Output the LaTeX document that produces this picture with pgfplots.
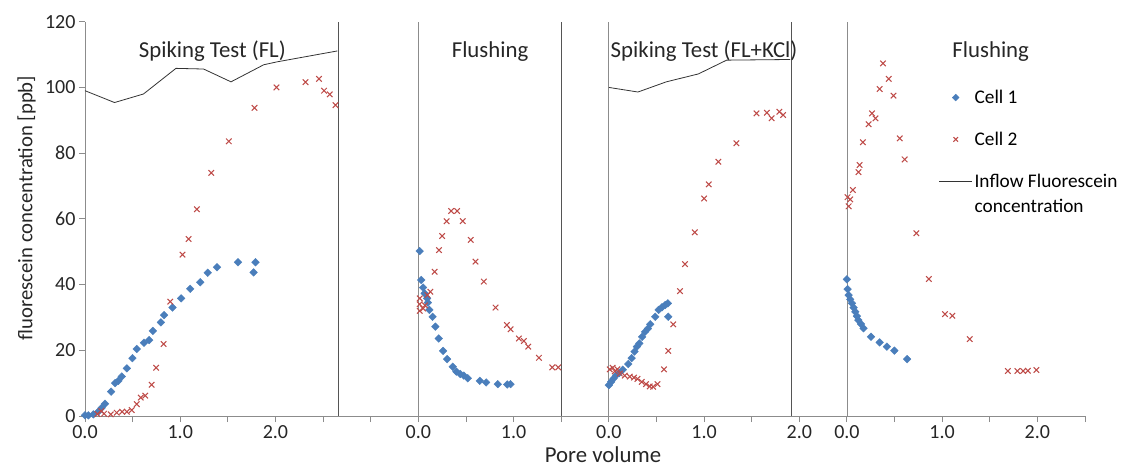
\documentclass[border=0pt]{standalone}
\usepackage{fontspec}
\setmainfont{Carlito}
\usepackage{pgfplots}
\pgfplotsset{compat=1.18}
\usepackage{pgfplotstable}
\definecolor{cblue}{HTML}{4A7EBB}
\definecolor{cred}{HTML}{BE4B48}
\definecolor{axgray}{HTML}{8C8C8C}
\definecolor{sepgray}{HTML}{555555}

\pgfplotsset{
  cellA/.style={only marks, mark=square*, mark size=2.7pt, mark options={rotate=45, fill=cblue, draw=cblue}, color=cblue},
  cellB/.style={only marks, mark=x, mark size=3.9pt, mark options={draw=cred, line width=1.05pt}, color=cred},
  inflow/.style={no marks, color=black!80, line width=0.8pt},
  markleg/.style={legend image code/.code={\draw[mark repeat=2,mark phase=2,##1, mark size=2.4pt] plot coordinates {(0pt,0pt) (16.5pt,0pt) (33pt,0pt)};}},
  markleg2/.style={legend image code/.code={\draw[mark repeat=2,mark phase=2,##1, mark size=3.2pt] plot coordinates {(0pt,0pt) (16.5pt,0pt) (33pt,0pt)};}},
  lineleg/.style={legend image code/.code={\draw[##1] (0pt,12.5pt) -- (33pt,12.5pt);}},
}

% segment 1 (offset 0)
\pgfplotstableread{
x y
0.000 0.2
0.035 0.2
0.088 0.5
0.140 1.3
0.175 2.5
0.210 3.7
0.274 7.4
0.316 10.0
0.351 10.7
0.386 12.0
0.439 14.5
0.498 17.6
0.544 20.4
0.620 22.3
0.674 23.1
0.712 25.9
0.797 28.5
0.830 30.7
0.919 33.0
1.010 35.8
1.105 38.7
1.210 40.7
1.288 43.6
1.386 45.3
1.606 46.8
1.770 43.7
1.790 46.8
}\Aone
\pgfplotstableread{
x y
0.130 0.6
0.170 1.5
0.200 0.7
0.270 0.5
0.333 1.0
0.390 1.3
0.440 1.3
0.490 1.8
0.544 3.6
0.585 5.6
0.632 6.2
0.700 9.5
0.747 14.7
0.825 21.9
0.895 34.8
1.024 49.1
1.088 53.9
1.175 62.9
1.326 74.0
1.510 83.6
1.780 93.8
2.010 100.0
2.316 101.6
2.457 102.6
2.510 99.0
2.570 97.9
2.630 94.6
}\Bone
\pgfplotstableread{
x y
0.000 99.0
0.310 95.4
0.614 98.0
0.955 105.8
1.245 105.6
1.533 101.7
1.877 106.9
2.020 107.8
2.650 111.1
}\Lone
% segment 2 (offset 3.5)
\pgfplotstableread{
x y
0.014 50.2
0.030 41.4
0.050 39.1
0.066 37.3
0.092 35.8
0.100 34.5
0.116 32.3
0.150 30.2
0.179 27.2
0.214 23.6
0.260 19.8
0.302 17.3
0.361 15.0
0.400 13.5
0.440 12.8
0.477 12.3
0.519 11.5
0.645 10.7
0.712 10.2
0.834 9.7
0.933 9.6
0.968 9.7
}\Atwo
\pgfplotstableread{
x y
0.014 32.0
0.014 34.0
0.014 35.8
0.050 32.7
0.070 33.7
0.095 36.8
0.126 37.8
0.172 43.9
0.217 50.5
0.250 54.8
0.297 59.3
0.344 62.4
0.407 62.4
0.466 59.3
0.550 53.6
0.600 47.0
0.688 40.9
0.811 33.0
0.930 27.7
0.968 26.4
1.056 23.6
1.108 22.8
1.154 21.1
1.266 17.7
1.407 14.8
1.470 14.8
}\Btwo
% segment 3 (offset 5.5)
\pgfplotstableread{
x y
0.000 9.4
0.025 10.4
0.050 11.4
0.077 12.4
0.110 13.1
0.147 14.1
0.204 15.8
0.240 17.6
0.270 19.6
0.295 21.1
0.320 22.1
0.350 24.1
0.380 25.6
0.410 26.6
0.435 27.9
0.487 30.2
0.523 32.3
0.558 33.1
0.593 33.8
0.620 34.3
0.624 30.2
}\Athree
\pgfplotstableread{
x y
0.010 14.2
0.040 14.7
0.063 13.6
0.090 14.2
0.116 12.9
0.168 12.3
0.220 12.0
0.264 11.7
0.300 11.3
0.346 10.4
0.391 9.7
0.430 9.0
0.466 8.9
0.512 9.7
0.579 14.2
0.624 19.8
0.677 27.9
0.747 38.0
0.800 46.2
0.903 55.9
1.000 66.2
1.050 70.5
1.150 77.4
1.340 83.0
1.550 92.1
1.660 92.3
1.710 90.6
1.790 92.6
1.830 91.6
}\Bthree
\pgfplotstableread{
x y
0.000 100.0
0.306 98.6
0.604 101.7
0.940 104.1
1.237 108.3
1.905 108.5
}\Lthree
% segment 4 (offset 8.0)
\pgfplotstableread{
x y
0.000 41.6
0.007 38.6
0.018 36.8
0.035 35.5
0.053 34.3
0.070 33.0
0.088 31.7
0.105 30.4
0.120 29.2
0.147 28.0
0.175 26.7
0.253 24.1
0.344 22.4
0.420 21.1
0.498 19.9
0.632 17.3
}\Afour
\pgfplotstableread{
x y
0.007 66.6
0.018 63.8
0.035 65.9
0.063 68.8
0.122 74.2
0.133 76.4
0.168 83.3
0.228 88.8
0.263 92.1
0.300 90.6
0.344 99.5
0.379 107.3
0.440 102.6
0.490 97.5
0.554 84.5
0.606 78.1
0.729 55.6
0.860 41.7
1.030 31.0
1.107 30.5
1.290 23.4
1.690 13.7
1.790 13.7
1.850 13.7
1.900 13.8
1.990 14.0
}\Bfour

\begin{document}
\begin{tikzpicture}
\path[use as bounding box] (-85pt,-59pt) rectangle (1041pt,416pt);
\begin{axis}[
  scale only axis,
  width=1000pt, height=394.3pt,
  xmin=0, xmax=10.5, ymin=0, ymax=120,
  clip=false,
  axis lines=left,
  axis line style={-, draw=axgray, line width=0.9pt},
  tick style={draw=axgray, line width=0.9pt},
  tick align=outside,
  major tick length=6pt,
  xtick={0,0.5,...,10.5},
  xticklabels={0.0,,1.0,,2.0,,,0.0,,1.0,,0.0,,1.0,,2.0,0.0,,1.0,,2.0,},
  ytick={0,20,...,120},
  /pgf/number format/assume math mode=true,
  tick label style={font=\fontsize{20}{24}\selectfont, text=black!85},
  xlabel={Pore volume},
  ylabel={fluorescein concentration [ppb]},
  xlabel style={font=\fontsize{22.8}{27}\selectfont, text=black!85,
    at={(axis description cs:0.518,0)}, anchor=base, yshift=-46.7pt},
  ylabel style={font=\fontsize{20.7}{25}\selectfont, text=black!85,
    at={(axis description cs:-0.0527,0.5275)}, anchor=base},
  legend style={draw=none, fill=none, font=\fontsize{19.3}{25}\selectfont,
    at={(axis cs:8.963,99.85)}, anchor=north west, row sep=23pt,
    cells={anchor=west}, inner sep=0pt},
]
% separators
\addplot[forget plot, sepgray, line width=0.8pt] coordinates {(2.66,0) (2.66,120)};
\addplot[forget plot, axgray, line width=0.8pt] coordinates {(3.5,0) (3.5,120)};
\addplot[forget plot, sepgray, line width=0.8pt] coordinates {(5.0,0) (5.0,120)};
\addplot[forget plot, axgray, line width=0.8pt] coordinates {(5.5,0) (5.5,120)};
\addplot[forget plot, sepgray, line width=0.8pt] coordinates {(7.42,0) (7.42,120)};
\addplot[forget plot, axgray, line width=0.8pt] coordinates {(8.0,0) (8.0,120)};

\addplot[cellA, markleg] table[x=x,y=y] {\Aone};
\addlegendentry{Cell 1}
\addplot[cellB, markleg2] table[x=x,y=y] {\Bone};
\addlegendentry{Cell 2}
\addplot[inflow, lineleg] table[x=x,y=y] {\Lone};
\addlegendentry[align=left]{Inflow Fluorescein\\concentration}

\addplot[cellA, forget plot] table[x expr=\thisrow{x}+3.5,y=y] {\Atwo};
\addplot[cellB, forget plot] table[x expr=\thisrow{x}+3.5,y=y] {\Btwo};
\addplot[cellA, forget plot] table[x expr=\thisrow{x}+5.5,y=y] {\Athree};
\addplot[cellB, forget plot] table[x expr=\thisrow{x}+5.5,y=y] {\Bthree};
\addplot[inflow, forget plot] table[x expr=\thisrow{x}+5.5,y=y] {\Lthree};
\addplot[cellA, forget plot] table[x expr=\thisrow{x}+8.0,y=y] {\Afour};
\addplot[cellB, forget plot] table[x expr=\thisrow{x}+8.0,y=y] {\Bfour};

\node[anchor=base, font=\fontsize{22.8}{27}\selectfont, text=black!85] at (axis cs:1.337,109.2) {Spiking Test (FL)};
\node[anchor=base, font=\fontsize{22.8}{27}\selectfont, text=black!85] at (axis cs:4.253,109.2) {Flushing};
\node[anchor=base, font=\fontsize{22.8}{27}\selectfont, text=black!85] at (axis cs:6.5,109.2) {Spiking Test (FL+KCl)};
\node[anchor=base, font=\fontsize{22.8}{27}\selectfont, text=black!85] at (axis cs:9.51,109.2) {Flushing};
\end{axis}
\end{tikzpicture}
\end{document}
